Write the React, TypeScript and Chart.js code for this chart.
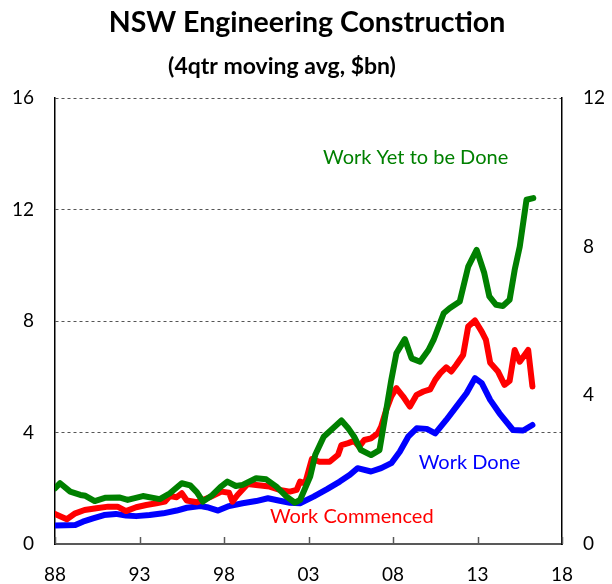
import React, { useEffect, useRef } from 'react';
import { Chart, registerables } from 'chart.js';

Chart.register(...registerables);

const titleText = 'NSW Engineering Construction';
const subtitleText = '(4qtr moving avg, $bn)';
const seriesNames = ['Work Yet to be Done', 'Work Commenced', 'Work Done'];

const yetYears = [
  1988.0, 1988.3, 1988.9, 1989.5, 1989.8, 1990.35, 1991.0, 1991.8, 1992.3, 1993.2,
  1994.2, 1994.8, 1995.5, 1996.0, 1996.4, 1996.75, 1997.3, 1997.8, 1998.2, 1998.7,
  1999.1, 1999.9, 2000.5, 2001.1, 2001.7, 2002.2, 2002.5, 2002.8, 2003.1, 2003.4,
  2003.9, 2004.45, 2004.95, 2005.35, 2005.7, 2006.1, 2006.7, 2007.2, 2007.6, 2007.9,
  2008.2, 2008.7, 2009.1, 2009.6, 2010.1, 2010.4, 2011.0, 2011.35, 2011.95, 2012.45,
  2012.95, 2013.4, 2013.7, 2014.1, 2014.5, 2014.9, 2015.2, 2015.5, 2015.9, 2016.3,
];
const yetValues = [
  2.0, 2.18, 1.88, 1.76, 1.73, 1.54, 1.66, 1.67, 1.58, 1.72,
  1.61, 1.82, 2.18, 2.1, 1.85, 1.52, 1.75, 2.05, 2.24, 2.08,
  2.12, 2.36, 2.32, 2.06, 1.7, 1.48, 1.58, 2.0, 2.42, 3.2,
  3.85, 4.15, 4.43, 4.15, 3.85, 3.37, 3.19, 3.37, 4.81, 5.89,
  6.84, 7.35, 6.66, 6.54, 6.96, 7.32, 8.28, 8.46, 8.7, 9.95,
  10.55, 9.72, 8.88, 8.58, 8.54, 8.76, 9.83, 10.67, 12.35, 12.41,
];

const commencedYears = [
  1988.0, 1988.7, 1989.2, 1989.75, 1990.45, 1991.15, 1991.7, 1992.2, 1992.8, 1993.4,
  1994.0, 1994.5, 1994.8, 1995.2, 1995.5, 1995.8, 1996.4, 1997.15, 1997.85, 1998.3,
  1998.5, 1998.8, 1999.4, 1999.9, 2000.7, 2001.3, 2001.9, 2002.3, 2002.5, 2002.8,
  2003.2, 2003.65, 2004.25, 2004.75, 2004.95, 2005.35, 2005.7, 2006.0, 2006.3, 2006.7,
  2007.1, 2007.3, 2007.6, 2007.9, 2008.2, 2008.6, 2009.0, 2009.4, 2009.8, 2010.2,
  2010.5, 2010.8, 2011.15, 2011.45, 2011.75, 2012.15, 2012.45, 2012.85, 2013.25, 2013.5,
  2013.75, 2014.2, 2014.6, 2014.9, 2015.2, 2015.5, 2016.0, 2016.25,
];
const commencedValues = [
  1.08, 0.89, 1.1, 1.22, 1.28, 1.34, 1.34, 1.18, 1.32, 1.4,
  1.46, 1.52, 1.72, 1.68, 1.82, 1.56, 1.5, 1.68, 1.88, 1.84,
  1.52, 1.76, 2.15, 2.12, 2.06, 1.94, 1.88, 1.94, 2.24, 2.18,
  3.05, 2.95, 2.95, 3.2, 3.55, 3.62, 3.7, 3.49, 3.73, 3.79,
  3.97, 4.21, 4.81, 5.29, 5.59, 5.29, 4.93, 5.35, 5.47, 5.55,
  5.89, 6.13, 6.34, 6.19, 6.43, 6.78, 7.8, 8.02, 7.62, 7.32,
  6.5, 6.2, 5.71, 5.85, 6.96, 6.54, 6.96, 5.65,
];

const doneYears = [
  1988.0, 1989.2, 1989.65, 1990.25, 1990.9, 1991.6, 1992.2, 1992.8, 1993.6, 1994.4,
  1995.2, 1995.8, 1996.6, 1997.0, 1997.65, 1998.3, 1999.1, 1999.9, 2000.6, 2001.3,
  2001.9, 2002.5, 2003.3, 2004.1, 2004.85, 2005.45, 2005.9, 2006.7, 2007.3, 2007.9,
  2008.4, 2008.9, 2009.4, 2010.0, 2010.5, 2011.15, 2011.75, 2012.35, 2012.85, 2013.25,
  2013.75, 2014.3, 2015.1, 2015.7, 2016.25,
];
const doneValues = [
  0.66, 0.68, 0.8, 0.92, 1.04, 1.08, 1.02, 1.0, 1.04, 1.1,
  1.2, 1.3, 1.36, 1.32, 1.2, 1.36, 1.46, 1.54, 1.64, 1.55,
  1.48, 1.46, 1.7, 1.97, 2.24, 2.48, 2.72, 2.6, 2.72, 2.9,
  3.31, 3.85, 4.15, 4.13, 3.97, 4.45, 4.93, 5.41, 5.95, 5.77,
  5.17, 4.69, 4.09, 4.07, 4.27,
];

const xTickYears = [1988, 1993, 1998, 2003, 2008, 2013, 2018];
const leftTicks = [0, 4, 8, 12, 16];
const rightTicks = [0, 4, 8, 12];

const GREEN = '#008000';
const RED = '#FF0000';
const BLUE = '#0000FF';
const FONT = 'Lato';

const toPoints = (xs: number[], ys: number[]) => xs.map((x, i) => ({ x, y: ys[i] }));

const overlay = {
  id: 'overlay',
  afterDraw(chart: any) {
    const { ctx, chartArea, scales } = chart;
    ctx.save();
    ctx.strokeStyle = '#595959';
    ctx.lineWidth = 1.5;
    for (const yr of xTickYears) {
      const px = Math.round(scales.x.getPixelForValue(yr)) + 0.5;
      ctx.beginPath();
      ctx.moveTo(px, chartArea.bottom);
      ctx.lineTo(px, chartArea.bottom - 7);
      ctx.stroke();
    }
    ctx.fillStyle = '#000';
    ctx.textAlign = 'center';
    ctx.textBaseline = 'middle';
    ctx.font = `bold 28.5px ${FONT}`;
    ctx.fillText(titleText, 307, 23);
    ctx.font = `bold 23px ${FONT}`;
    ctx.fillText(subtitleText, 282, 67);
    ctx.font = `20px ${FONT}`;
    const lab = (text: string, color: string, xv: number, yv: number) => {
      ctx.fillStyle = color;
      ctx.fillText(text, scales.x.getPixelForValue(xv), scales.y.getPixelForValue(yv));
    };
    lab(seriesNames[0], GREEN, 2009.34, 13.85);
    lab(seriesNames[2], BLUE, 2012.53, 2.91);
    lab(seriesNames[1], RED, 2005.56, 0.97);
    ctx.restore();
  },
};

export default function App() {
  const ref = useRef<HTMLCanvasElement | null>(null);
  useEffect(() => {
    document.body.style.margin = '0';
    const canvas = ref.current;
    if (!canvas) return;
    const lineDs = (label: string, data: any[], color: string) => ({
      label,
      data,
      borderColor: color,
      backgroundColor: color,
      borderWidth: 6,
      pointRadius: 0,
      tension: 0,
      fill: false,
      borderJoinStyle: 'round' as const,
      borderCapStyle: 'round' as const,
      yAxisID: 'y',
    });
    const chart = new Chart(canvas, {
      type: 'line',
      data: {
        datasets: [
          lineDs(seriesNames[0], toPoints(yetYears, yetValues), GREEN),
          lineDs(seriesNames[1], toPoints(commencedYears, commencedValues), RED),
          lineDs(seriesNames[2], toPoints(doneYears, doneValues), BLUE),
        ],
      },
      options: {
        animation: false,
        responsive: false,
        maintainAspectRatio: false,
        layout: { padding: { top: 98, left: 0, right: 0, bottom: 0 } },
        plugins: { legend: { display: false }, title: { display: false }, tooltip: { enabled: false } },
        scales: {
          x: {
            type: 'linear',
            min: 1988,
            max: 2018,
            afterBuildTicks: (s: any) => { s.ticks = xTickYears.map((v) => ({ value: v })); },
            afterFit: (s: any) => { s.height = 40; },
            ticks: {
              padding: 19,
              maxRotation: 0,
              autoSkip: false,
              color: '#000',
              font: { family: FONT, size: 19 },
              callback: (v: any) => String(Number(v) % 100).padStart(2, '0'),
            },
            grid: { display: false, drawTicks: false },
            border: { display: true, color: '#595959', width: 2 },
          },
          y: {
            position: 'left',
            min: 0,
            max: 16,
            afterBuildTicks: (s: any) => { s.ticks = leftTicks.map((v) => ({ value: v })); },
            afterFit: (s: any) => { s.width = 55; },
            ticks: { padding: 21, color: '#000', font: { family: FONT, size: 19 } },
            grid: {
              drawTicks: false,
              color: (c: any) => (c.tick && c.tick.value === 0 ? 'rgba(0,0,0,0)' : '#555'),
              lineWidth: 1,
            },
            border: { display: true, color: '#000', width: 1.5, dash: [3, 3] },
          },
          y2: {
            position: 'right',
            min: 0,
            max: 12,
            afterBuildTicks: (s: any) => { s.ticks = rightTicks.map((v) => ({ value: v })); },
            afterFit: (s: any) => { s.width = 50; },
            ticks: { padding: 21, color: '#000', font: { family: FONT, size: 19 } },
            grid: { display: false, drawTicks: false },
            border: { display: true, color: '#000', width: 1.5 },
          },
        },
      },
      plugins: [overlay],
    });
    return () => chart.destroy();
  }, []);
  return (
    <div style={{ width: 612, height: 584, position: 'relative' }}>
      <canvas ref={ref} width={612} height={584} style={{ width: 612, height: 584, display: 'block' }} />
    </div>
  );
}
